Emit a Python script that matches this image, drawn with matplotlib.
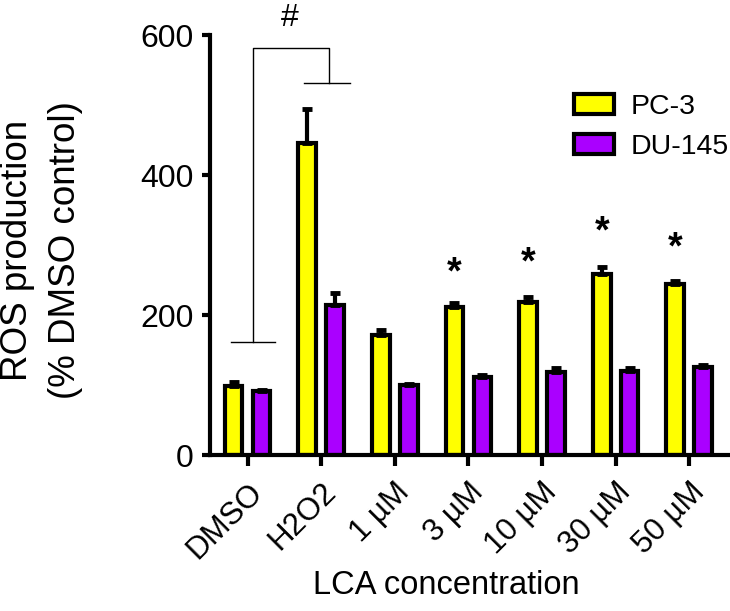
import matplotlib
matplotlib.use('Agg')
import matplotlib.pyplot as plt
from matplotlib.patches import Patch
import numpy as np

plt.rcParams['font.family'] = ['Liberation Sans', 'DejaVu Sans']

# donnees
categories = ['DMSO', 'H2O2', '1 µM', '3 µM', '10 µM', '30 µM', '50 µM']
pc3 = [99, 446, 171, 211, 219, 259, 244]
pc3_err = [6, 49, 8, 6, 7, 10, 5]
du145 = [92, 215, 100, 111, 119, 120, 126]
du145_err = [1, 16, 2, 3, 5, 4, 3]
etoiles = [3, 4, 5, 6]            # groupes marques d'une *
etoiles_y = [259, 274, 318, 295]

jaune = '#FFFF00'
violet = '#AA00FF'

fig = plt.figure(figsize=(7.3, 6.11), dpi=100)
ax = fig.add_axes([0.2877, 0.2553, 0.711, 0.6874])

x = np.arange(len(categories))
w = 0.24
ax.bar(x - 0.19, pc3, w, color=jaune, edgecolor='black', linewidth=3, zorder=2)
ax.bar(x + 0.19, du145, w, color=violet, edgecolor='black', linewidth=3, zorder=2)
# barres d'erreur vers le haut seulement
ax.errorbar(x - 0.19, pc3, yerr=[np.zeros(len(x)), pc3_err], fmt='none',
            ecolor='black', elinewidth=3, capsize=3.5, capthick=3.5, zorder=3)
ax.errorbar(x + 0.19, du145, yerr=[np.zeros(len(x)), du145_err], fmt='none',
            ecolor='black', elinewidth=3, capsize=3.5, capthick=3.5, zorder=3)

for i, y in zip(etoiles, etoiles_y):
    ax.text(x[i] - 0.19, y, '*', ha='center', va='center', fontsize=27, fontweight='bold')

# crochet de significativite DMSO / H2O2
ax.plot([-0.22, 0.37], [162, 162], color='black', lw=1, clip_on=False)
ax.plot([0.07, 0.07, 1.1, 1.1], [162, 581, 581, 532], color='black', lw=1, clip_on=False)
ax.plot([0.77, 1.39], [532, 532], color='black', lw=1, clip_on=False)
ax.text(0.57, 624, '#', ha='center', va='center', fontsize=23, clip_on=False)

ax.set_xlim(-0.51, 6.54)
ax.set_ylim(0, 600)
ax.set_yticks([0, 200, 400, 600])
ax.set_xticks(x)
ax.set_xticklabels(categories, rotation=45, ha='right', va='top',
                   rotation_mode='anchor', fontsize=22.5)
ax.tick_params(axis='y', labelsize=23, width=3, length=6, pad=6)
ax.tick_params(axis='x', width=3, length=8, pad=8)
for s in ['top', 'right']:
    ax.spines[s].set_visible(False)
for s in ['left', 'bottom']:
    ax.spines[s].set_linewidth(3)

ax.set_xlabel('LCA concentration', fontsize=23.5)
ax.xaxis.label.set_va('center')
ax.xaxis.set_label_coords(0.455, -0.31)

ax.set_ylabel('ROS production\n(% DMSO control)', fontsize=26.5, linespacing=1.5)
ax.yaxis.label.set_va('center')
ax.yaxis.set_label_coords(-0.325, 0.488)

handles = [Patch(facecolor=jaune, edgecolor='black', linewidth=3, label='PC-3'),
           Patch(facecolor=violet, edgecolor='black', linewidth=3, label='DU-145')]
fig.legend(handles=handles, loc='upper left', bbox_to_anchor=(574 / 730, 1 - 94 / 611),
           frameon=False, fontsize=20.5, borderpad=0, borderaxespad=0,
           handlelength=1.4, handleheight=0.7, handletextpad=0.6, labelspacing=0.5)

fig.savefig('out.png', dpi=100)
